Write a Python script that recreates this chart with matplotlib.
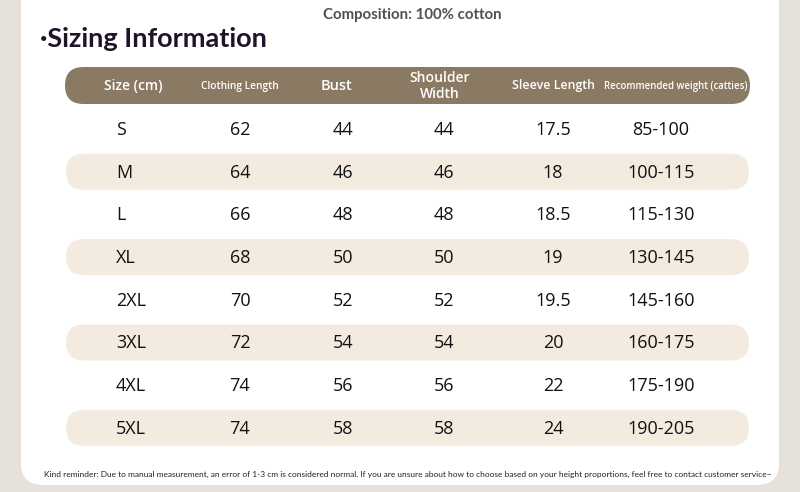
import matplotlib
matplotlib.use('Agg')
import matplotlib.pyplot as plt
from matplotlib.patches import FancyBboxPatch

# table data
headers = ['Size (cm)', 'Clothing Length', 'Bust', 'Shoulder\nWidth', 'Sleeve Length',
           'Recommended weight (catties)']
sizes = ['S', 'M', 'L', 'XL', '2XL', '3XL', '4XL', '5XL']
clothing_length = ['62', '64', '66', '68', '70', '72', '74', '74']
bust = ['44', '46', '48', '50', '52', '54', '56', '58']
shoulder_width = ['44', '46', '48', '50', '52', '54', '56', '58']
sleeve_length = ['17.5', '18', '18.5', '19', '19.5', '20', '22', '24']
weight = ['85-100', '100-115', '115-130', '130-145', '145-160', '160-175', '175-190', '190-205']

title = '·Sizing Information'
subtitle = 'Composition: 100% cotton'
note = ('Kind reminder: Due to manual measurement, an error of 1-3 cm is considered normal. '
        'If you are unsure about how to choose based on your height proportions, '
        'feel free to contact customer service~')

plt.rcParams['font.family'] = ['Open Sans', 'DejaVu Sans']

fig = plt.figure(figsize=(8, 4.92), dpi=100)
fig.patch.set_facecolor('#e7e1db')
ax = fig.add_axes([0, 0, 1, 1])
ax.set_xlim(0, 800)
ax.set_ylim(492, 0)
ax.axis('off')

# white card
ax.add_patch(FancyBboxPatch((21, -40), 758, 525, boxstyle='round,pad=0,rounding_size=22',
                            fc='white', ec='none'))

ax.text(412, 15, subtitle, ha='center', va='center', fontsize=10.8, color='#505050',
        fontweight='bold', family=['Lato', 'DejaVu Sans'])
ax.text(40, 39, title, ha='left', va='center', fontsize=19.5, color='#21142a',
        fontweight='bold', family=['Lato', 'DejaVu Sans'])

# header band
ax.add_patch(FancyBboxPatch((65, 67), 685, 37, boxstyle='round,pad=0,rounding_size=18.5',
                            fc='#8b7a63', ec='none'))
col_x = [133, 240, 337, 440, 553, 676]
head_sizes = [10, 7.3, 10.5, 10, 8.9, 6.9]
for x, h, fs in zip(col_x, headers, head_sizes):
    ax.text(x, 86, h, ha='center', va='center', fontsize=fs, color='white',
            linespacing=1.25, fontweight='semibold')

row_y0 = 130
row_dy = 42.7
val_x = [240, 343, 444, 553, 661]
for i, s in enumerate(sizes):
    y = row_y0 + i * row_dy
    if i % 2 == 1:
        ax.add_patch(FancyBboxPatch((66, y - 19), 683, 36,
                                    boxstyle='round,pad=0,rounding_size=18',
                                    fc='#f3ebe0', ec='none'))
    ax.text(116, y, s, ha='left', va='center', fontsize=13, color='#111111')
    vals = [clothing_length[i], bust[i], shoulder_width[i], sleeve_length[i], weight[i]]
    for x, v in zip(val_x, vals):
        ax.text(x, y, v, ha='center', va='center', fontsize=13, color='#111111')

ax.text(408, 474, note, ha='center', va='center', fontsize=6.05, color='#222222',
        family=['Lato', 'DejaVu Sans'])

fig.savefig('out.png', dpi=100, facecolor=fig.get_facecolor())
